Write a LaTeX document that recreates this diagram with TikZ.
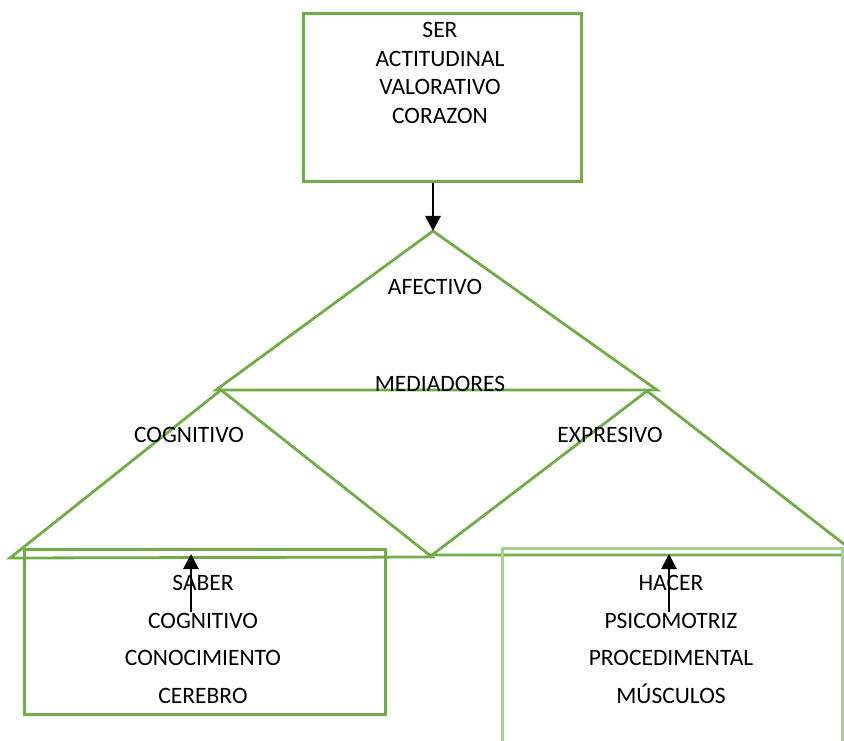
\documentclass[tikz,border=0pt]{standalone}
\usepackage{fontspec}
\setmainfont{Carlito}
\usetikzlibrary{arrows.meta}
\definecolor{hojaverde}{HTML}{70AD47}
\definecolor{verdeclaro}{HTML}{A9D18E}

\begin{document}
\begin{tikzpicture}[x=1pt, y=-1pt,
	caja/.style = {draw=hojaverde, line width=3pt, anchor=north west, inner sep=0pt},
	lado/.style = {draw=hojaverde, line width=2.8pt},
	texto/.style = {font=\fontsize{23.5}{28.5}\selectfont, align=center, inner sep=0pt},
	lista/.style = {texto, font=\fontsize{23.5}{37.5}\selectfont, anchor=north},
	flecha/.style = {-{Triangle[width=15pt,length=15pt]}, line width=2.8pt}]
	\useasboundingbox (0,0) rectangle (844,741);
	\clip (0,0) rectangle (844,741);
	% triangulos
	\coordinate (cima) at (433,231);
	\draw[lado] (216,390) -- (cima) -- (657,390) -- cycle;
	\draw[lado] (221,390) -- (10,558) -- (432,557) -- cycle;
	\draw[lado] (647,391) -- (858,555) -- (432,555) -- cycle;
	\node[texto] (afectivo) at (435,287) {AFECTIVO};
	\node[texto] (mediadores) at (440,384) {MEDIADORES};
	\node[texto] (cognitivo) at (189,435) {COGNITIVO};
	\node[texto] (expresivo) at (610,435) {EXPRESIVO};
	% cajas
	\node[caja, minimum width=278pt, minimum height=168pt] (ser) at (302,12) {};
	\node[texto, anchor=north] (sertxt) at (440,22.5) {SER\\ACTITUDINAL\\VALORATIVO\\CORAZON};
	\node[caja, minimum width=361pt, minimum height=165pt] (saber) at (23,548) {};
	\node[lista] (sabertxt) at (203,575.5) {SABER\\COGNITIVO\\CONOCIMIENTO\\CEREBRO};
	\draw[verdeclaro, line width=3pt] (502,760) -- (502,548) -- (842,548) -- (842,760);
	\node[lista] (hacertxt) at (671,575.5) {HACER\\PSICOMOTRIZ\\PROCEDIMENTAL\\MÚSCULOS};
	% flechas
	\draw[flecha] (ser.south -| cima) -- (cima);
	\coordinate (sabercola) at (191,612);
	\coordinate (saberpunta) at (191,554);
	\draw[flecha] (sabercola) -- (saberpunta);
	\coordinate (hacercola) at (669,612);
	\coordinate (hacerpunta) at (669,554);
	\draw[flecha] (hacercola) -- (hacerpunta);
\end{tikzpicture}
\end{document}
